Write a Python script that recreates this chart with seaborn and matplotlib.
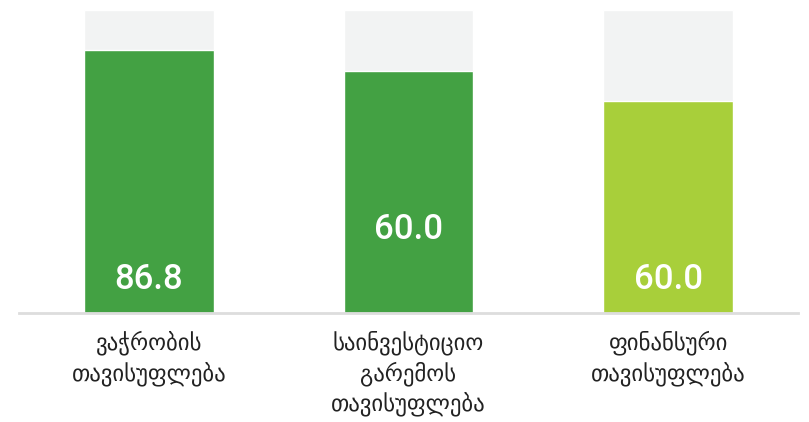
import seaborn as sns
import matplotlib.pyplot as plt
import pandas as pd

# dati
categorie = ["ვაჭრობის\nთავისუფლება", "საინვესტიციო\nგარემოს\nთავისუფლება", "ფინანსური\nთავისუფლება"]
valori = [86.8, 80.0, 70.0]
etichette = ["86.8", "60.0", "60.0"]
massimo = [100, 100, 100]

colori = ["#43a143", "#43a143", "#a8cf3a"]
etichetta_y = [11.0, 27.6, 10.9]

df = pd.DataFrame({"Categoria": categorie, "Valore": valori, "Max": massimo})

sns.set_style("white")
plt.rcParams["font.family"] = ["DejaVu Sans"]

fig = plt.figure(figsize=(8.09, 4.22), dpi=100)
ax = fig.add_axes([19 / 809, 109.3 / 422, 779 / 809, 302.7 / 422])

# barre grigie di sfondo
sns.barplot(data=df, x="Categoria", y="Max", color="#f2f3f3", width=0.5,
            saturation=1, ax=ax)
# barre verdi
sns.barplot(data=df, x="Categoria", y="Valore", hue="Categoria", palette=colori,
            width=0.5, saturation=1, legend=False, ax=ax)

for i, (txt, yy) in enumerate(zip(etichette, etichetta_y)):
    ax.text(i, yy, txt, ha="center", va="center", color="white",
            fontsize=25, fontweight="medium", family=["Roboto", "DejaVu Sans"])

ax.set_xlim(-0.5, 2.5)
ax.set_ylim(0, 100)
ax.set_xlabel("")
ax.set_ylabel("")
ax.set_yticks([])
ax.tick_params(axis="x", length=0, pad=13, labelsize=16.4, labelcolor="#222222")
for lab in ax.get_xticklabels():
    lab.set_linespacing(1.3)
for s in ["top", "left", "right"]:
    ax.spines[s].set_visible(False)
ax.spines["bottom"].set_color("#dddddd")
ax.spines["bottom"].set_linewidth(2)

plt.savefig("out.png", dpi=100)
